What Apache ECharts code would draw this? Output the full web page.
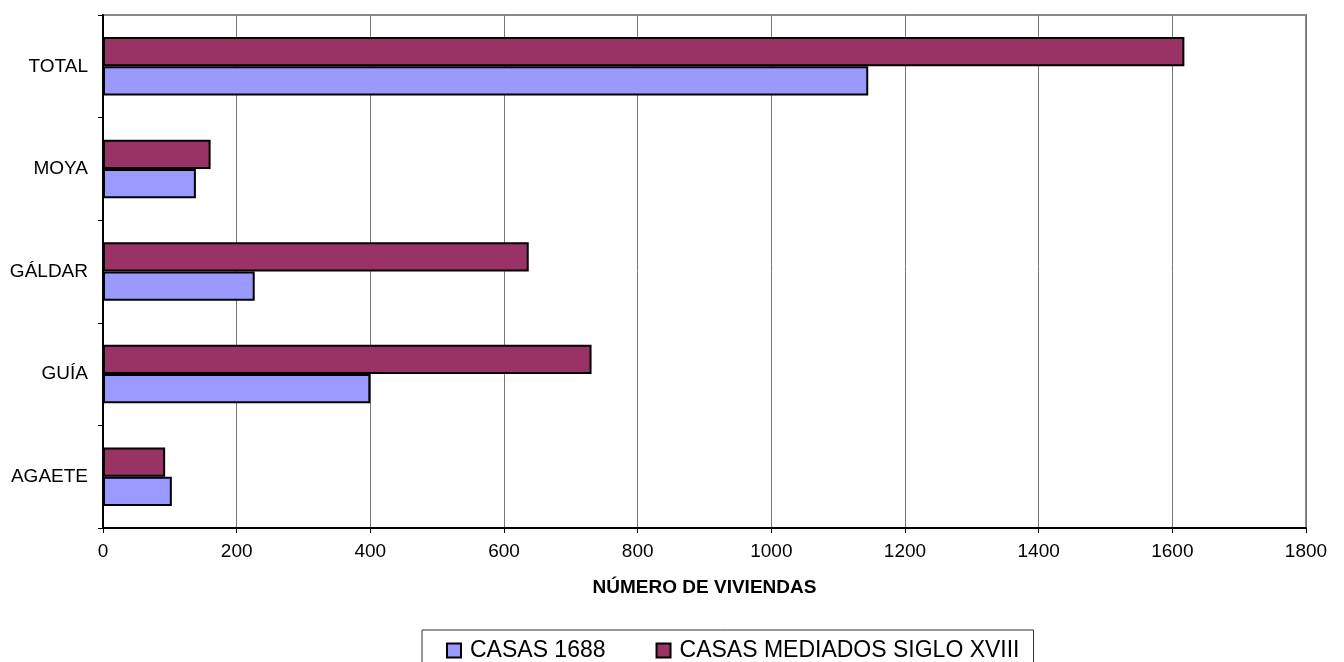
<!DOCTYPE html>
<html>
<head>
<meta charset="utf-8">
<script src="https://cdn.jsdelivr.net/npm/echarts@6/dist/echarts.min.js"></script>
<style>
html,body{margin:0;padding:0;background:#fff;}
#chart{width:1344px;height:662px;}
</style>
</head>
<body>
<div id="chart"></div>
<script>
const categories = ['AGAETE', 'GUÍA', 'GÁLDAR', 'MOYA', 'TOTAL'];
const casas1688 = [103, 400, 227, 139, 1145];
const casasSigloXVIII = [93, 731, 637, 161, 1618];
const seriesNames = ['CASAS 1688', 'CASAS MEDIADOS SIGLO XVIII'];
const xTicks = { min: 0, max: 1800, interval: 200 };
const axisName = 'NÚMERO DE VIVIENDAS';

const FONT = "'Liberation Sans', Arial, sans-serif";
const chart = echarts.init(document.getElementById('chart'), null, { renderer: 'canvas' });
chart.setOption({
  animation: false,
  backgroundColor: '#ffffff',
  textStyle: { fontFamily: FONT },
  grid: {
    left: 103, right: 38, top: 15, bottom: 134,
    show: true, borderColor: '#888888', borderWidth: 2, backgroundColor: 'transparent'
  },
  legend: {
    data: seriesNames,
    left: 422, top: 630,
    orient: 'horizontal',
    padding: [9, 14, 20, 24],
    itemWidth: 14, itemHeight: 14, itemGap: 50,
    borderColor: '#333333', borderWidth: 1,
    icon: 'rect',
    textStyle: { fontFamily: FONT, fontSize: 23, color: '#000', padding: [0, 0, 0, 4] },
    itemStyle: { borderColor: '#000', borderWidth: 2 }
  },
  xAxis: {
    type: 'value',
    min: xTicks.min, max: xTicks.max, interval: xTicks.interval,
    name: axisName,
    nameLocation: 'middle',
    nameGap: 50,
    nameTextStyle: { fontFamily: FONT, fontSize: 19, fontWeight: 'bold', color: '#000' },
    axisLine: { show: true, lineStyle: { color: '#000', width: 2 } },
    axisTick: { show: true, length: 5, lineStyle: { color: '#000', width: 1 } },
    axisLabel: { fontFamily: FONT, fontSize: 19, color: '#000', margin: 14, formatter: v => String(v) },
    splitLine: { show: true, lineStyle: { color: '#777', width: 1 } }
  },
  yAxis: {
    type: 'category',
    data: categories,
    axisLine: { show: true, lineStyle: { color: '#000', width: 2 } },
    axisTick: { show: true, length: 5, alignWithLabel: false, lineStyle: { color: '#000', width: 1 } },
    axisLabel: { fontFamily: FONT, fontSize: 19, color: '#000', margin: 15 },
    splitLine: { show: false }
  },
  series: [
    {
      name: seriesNames[1], type: 'bar', data: casasSigloXVIII,
      barGap: '0%', barCategoryGap: '43%',
      itemStyle: { color: '#993366', borderColor: '#000', borderWidth: 2 }
    },
    {
      name: seriesNames[0], type: 'bar', data: casas1688,
      barGap: '0%', barCategoryGap: '43%',
      itemStyle: { color: '#9999FF', borderColor: '#000', borderWidth: 2 }
    }
  ]
});
</script>
</body>
</html>
